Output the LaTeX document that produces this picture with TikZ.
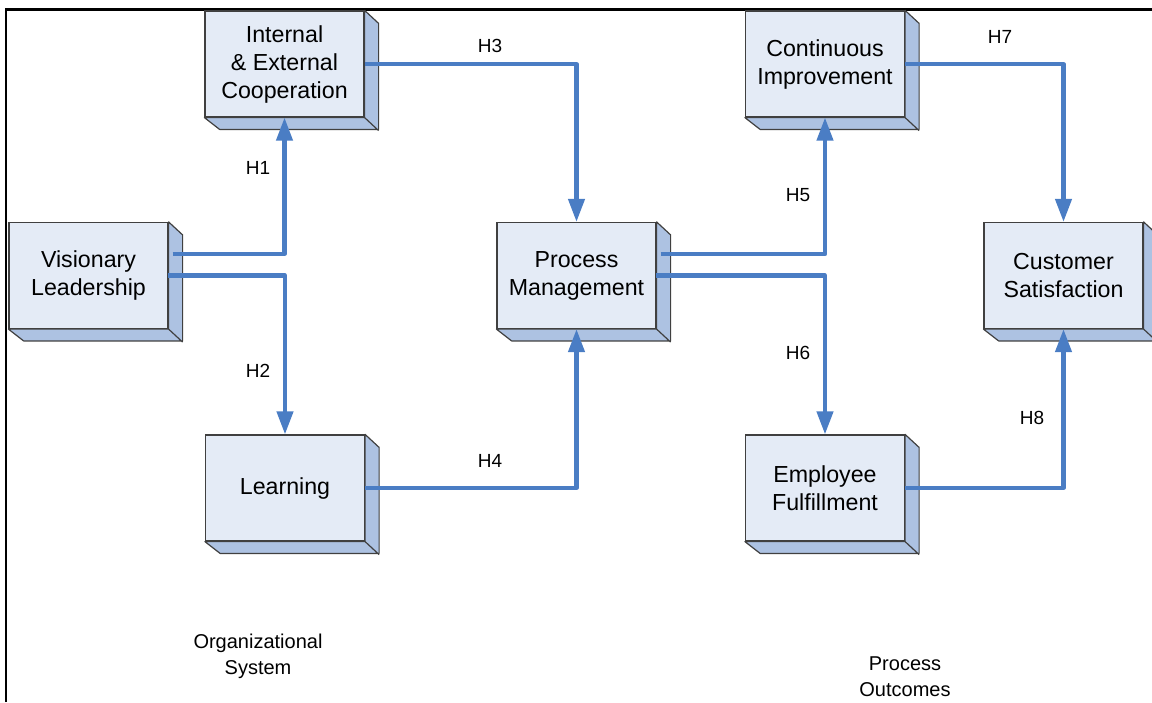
\documentclass[tikz,border=0pt]{standalone}
\usepackage{fontspec}
\setmainfont{Liberation Sans}
\usetikzlibrary{arrows.meta, positioning}

\definecolor{boxfront}{HTML}{E4EBF6}
\definecolor{boxside}{HTML}{ADC2E2}
\definecolor{boxedge}{HTML}{404040}
\definecolor{linkblue}{HTML}{4A7DC4}

\begin{document}
\begin{tikzpicture}[x=1pt, y=-1pt,
        block/.style={draw=boxedge, line width=1.2pt, fill=boxfront, minimum width=159pt,
            minimum height=106pt, inner sep=0pt, align=center, font=\fontsize{23.2}{28}\selectfont},
        side/.style={draw=boxedge, line width=1.2pt, fill=boxside, line join=round},
        link/.style={draw=linkblue, line width=4.2pt, line join=round, -{Triangle[length=23pt, width=16pt]}},
        hlabel/.style={font=\fontsize{19}{22}\selectfont},
        note/.style={align=center, font=\fontsize{20}{26}\selectfont}]
                \useasboundingbox (0,0) rectangle (1152,702);

                % frame
                \draw[line width=2.6pt] (6,702) -- (6,9.5) -- (1152,9.5);

                % blocks
                \node[block] (vis) at (88.5,275.5) {Visionary\\Leadership};
                \node[block] (coop) at (284.5,64) {Internal\\\& External\\Cooperation};
                \node[block] (learn) at (285,488) {Learning};
                \node[block] (proc) at (576.5,275.5) {Process\\Management};
                \node[block] (cont) at (825,64) {Continuous\\Improvement};
                \node[block] (empl) at (825,488) {Employee\\Fulfillment};
                \node[block] (cust) at (1063.5,275.5) {Customer\\Satisfaction};

                % 3d sides
                \foreach \n in {vis,coop,learn,proc,cont,empl,cust}
                    \draw[side] (\n.north east) -- ++(14,13) -- ++(0,106) -- ++(-159,0)
                        -- (\n.south west) -- (\n.south east) -- cycle
                        (\n.south east) -- ++(14,13);

                % hypotheses
                \draw[link] ([shift={(4,-21.5)}]vis.east) -| (coop.south);
                \draw[link] ([xshift=-1]vis.east) -| (learn.north);
                \draw[link] (coop.east) -| (proc.north);
                \draw[link] (learn.east) -| (proc.south);
                \draw[link] ([shift={(4,-21.5)}]proc.east) -| (cont.south);
                \draw[link] ([xshift=-1]proc.east) -| (empl.north);
                \draw[link] (cont.east) -| (cust.north);
                \draw[link] (empl.east) -| (cust.south);

                \node[hlabel] (h1) at (258,168) {H1};
                \node[hlabel] (h2) at (258,371) {H2};
                \node[hlabel] (h3) at (490,46) {H3};
                \node[hlabel] (h4) at (490,461) {H4};
                \node[hlabel] (h5) at (798,195) {H5};
                \node[hlabel] (h6) at (798,353) {H6};
                \node[hlabel] (h7) at (1000,37) {H7};
                \node[hlabel] (h8) at (1032,418) {H8};

                \node[note] (orgsys) at (258,656) {Organizational\\System};
                \node[note] (procout) at (905,677) {Process\\Outcomes};
            \end{tikzpicture}
\end{document}
